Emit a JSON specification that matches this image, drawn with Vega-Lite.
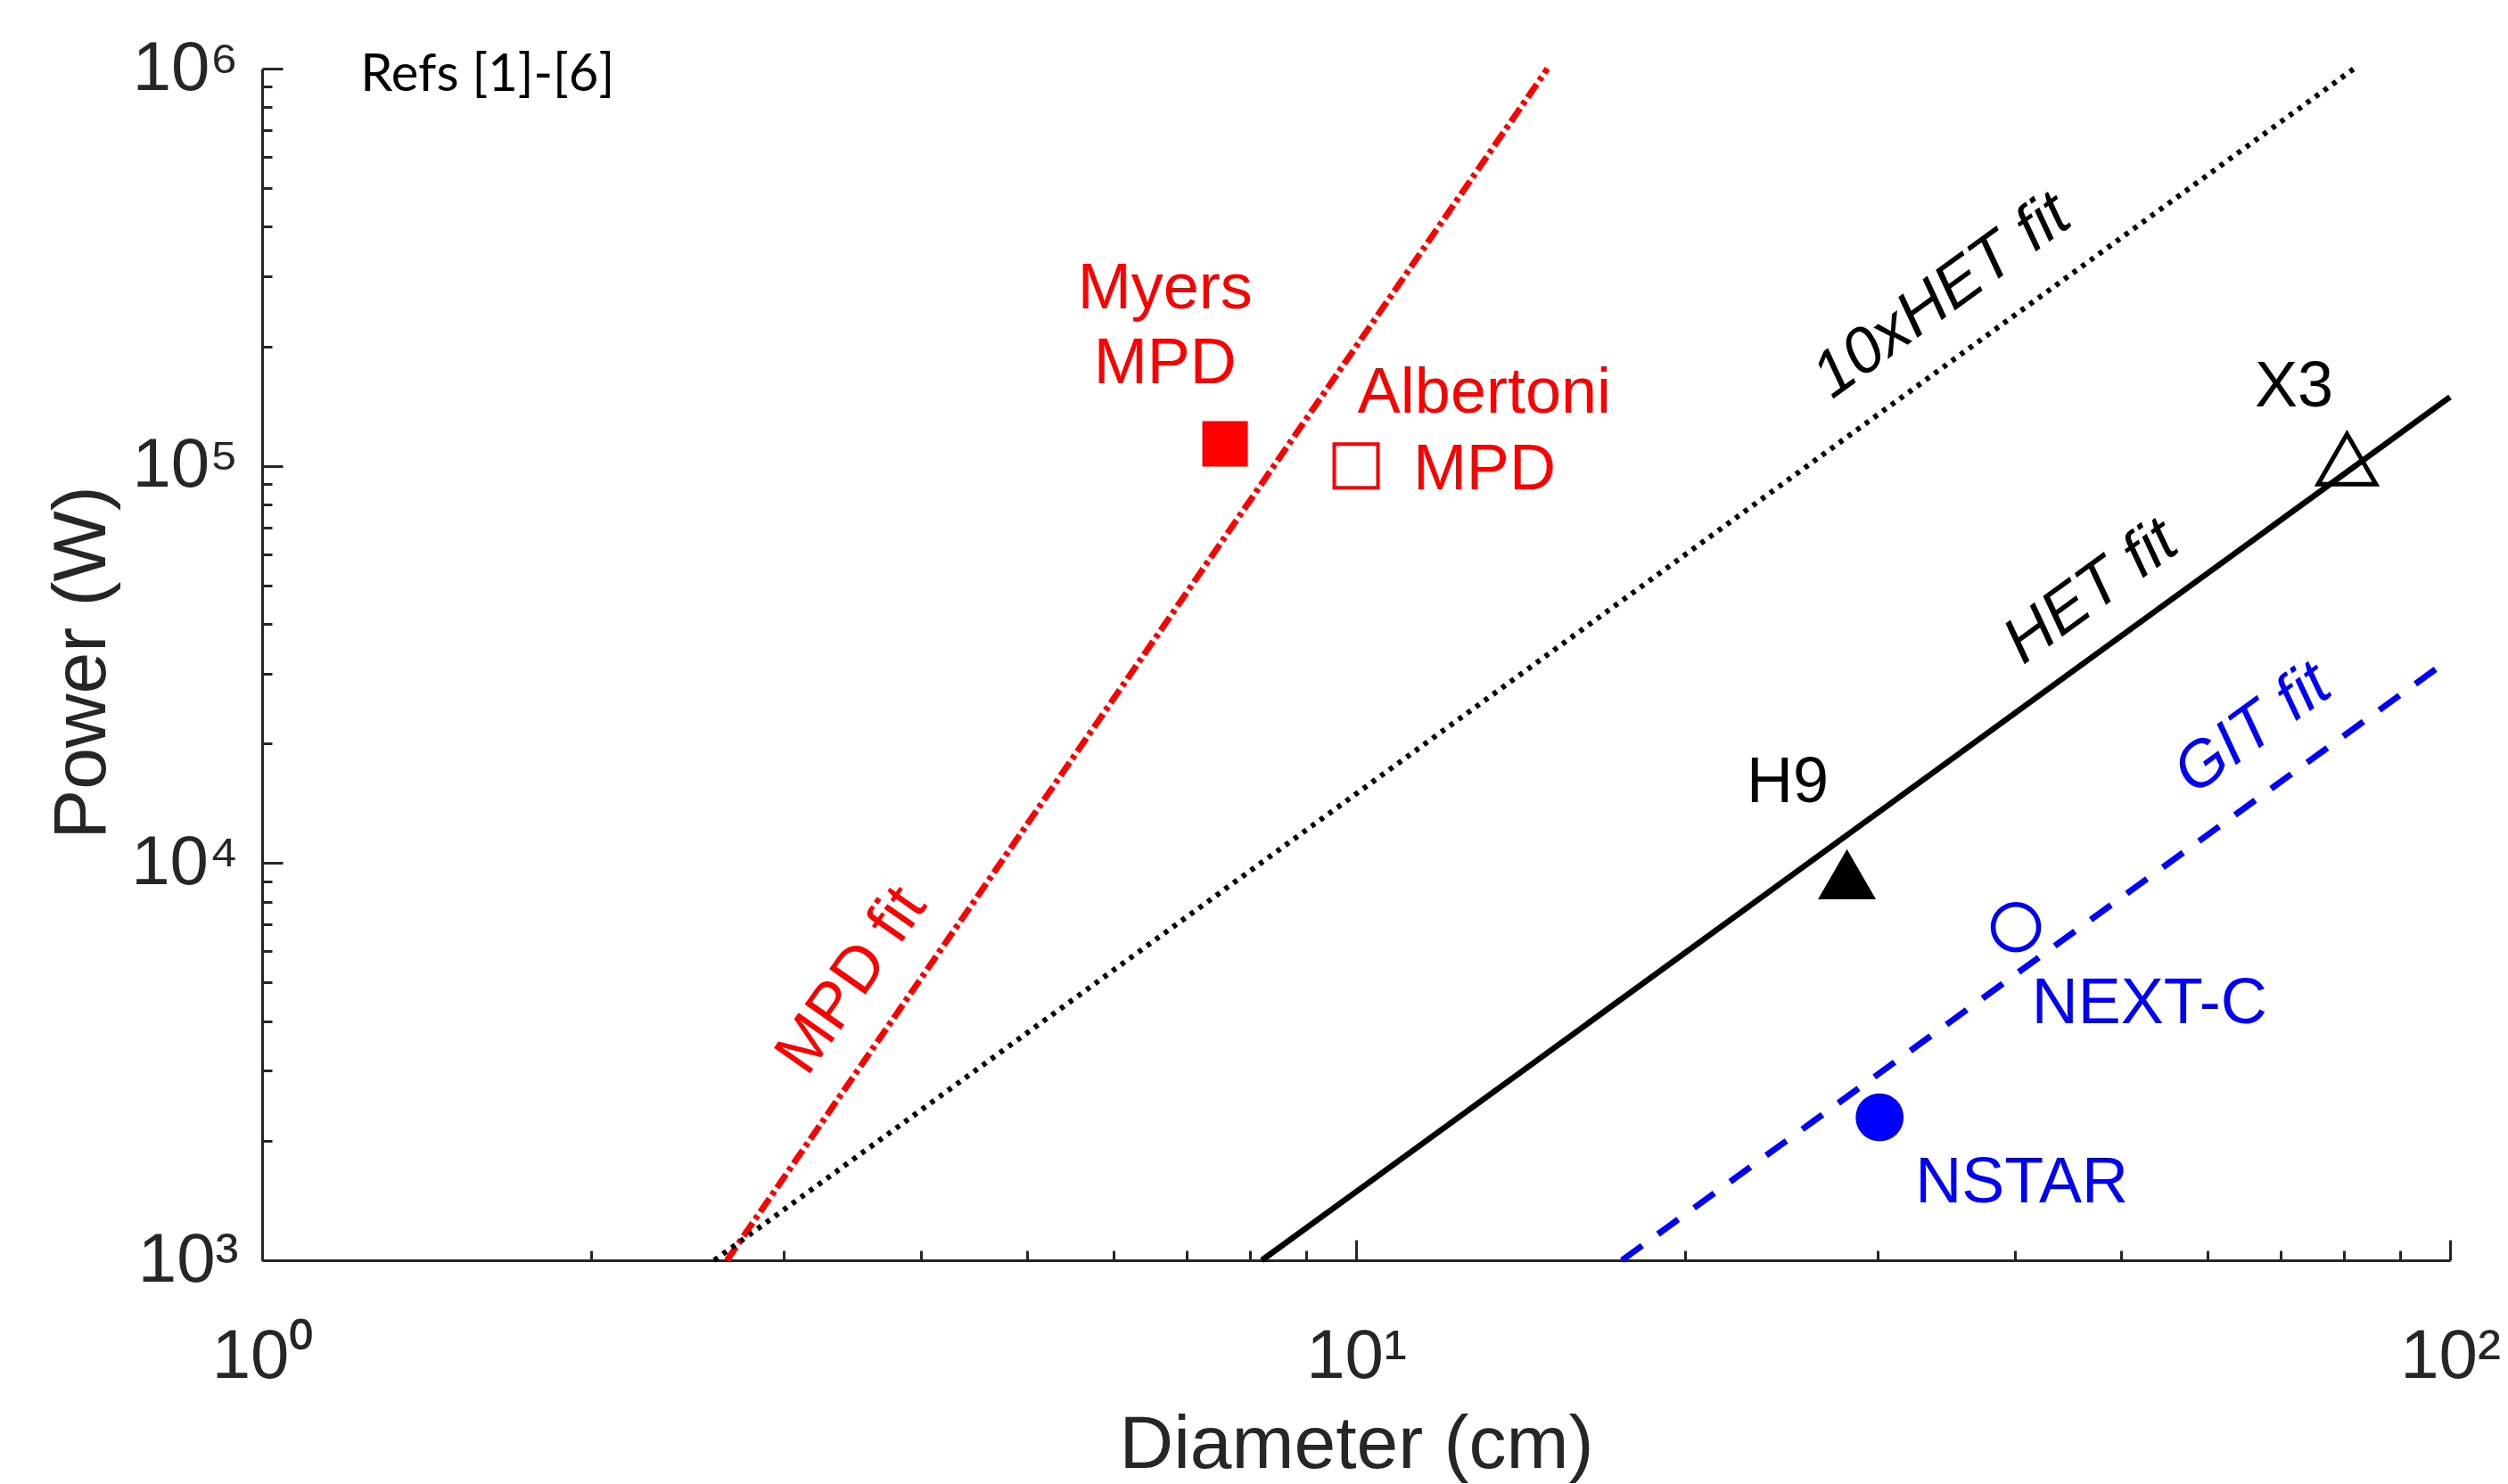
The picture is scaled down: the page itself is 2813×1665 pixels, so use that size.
{
  "$schema": "https://vega.github.io/schema/vega-lite/v6.json",
  "width": 2454,
  "height": 1337,
  "autosize": {"type": "none"},
  "padding": {"left": 294, "top": 77, "right": 65, "bottom": 251},
  "background": "white",
  "config": {"view": {"stroke": null}, "font": "Liberation Sans"},
  "datasets": {
    "lines": [
      {"series": "MPD fit", "d": 2.66, "p": 1000},
      {"series": "MPD fit", "d": 14.96, "p": 1000000},
      {"series": "10xHET fit", "d": 2.59, "p": 1000},
      {"series": "10xHET fit", "d": 81.7, "p": 1000000},
      {"series": "HET fit", "d": 8.2, "p": 1000},
      {"series": "HET fit", "d": 100, "p": 149000},
      {"series": "GIT fit", "d": 17.5, "p": 1000},
      {"series": "GIT fit", "d": 99.4, "p": 32300}
    ],
    "points": [
      {"name": "Myers MPD", "d": 7.59, "p": 113600},
      {"name": "Albertoni MPD", "d": 10.0, "p": 100000},
      {"name": "H9", "d": 28.1, "p": 9370},
      {"name": "X3", "d": 80.5, "p": 104000},
      {"name": "NEXT-C", "d": 40.1, "p": 6900},
      {"name": "NSTAR", "d": 30.1, "p": 2290}
    ],
    "labels": [
      {"text": "Myers", "family": "MPD", "d": 6.69, "p": 249000},
      {"text": "MPD", "family": "MPD", "d": 6.69, "p": 161000},
      {"text": "Albertoni", "family": "MPD", "d": 13.1, "p": 136000},
      {"text": "MPD", "family": "MPD", "d": 13.1, "p": 87300},
      {"text": "X3", "family": "HET", "d": 72.0, "p": 141000},
      {"text": "H9", "family": "HET", "d": 24.8, "p": 14200},
      {"text": "NEXT-C", "family": "GIT", "d": 53.1, "p": 3950},
      {"text": "NSTAR", "family": "GIT", "d": 40.6, "p": 1400}
    ],
    "fitlabels": [
      {"text": "MPD fit", "family": "MPD", "d": 3.457, "p": 5070},
      {"text": "10xHET fit", "family": "HET", "d": 34.3, "p": 268000},
      {"text": "HET fit", "family": "HET", "d": 46.95, "p": 48200},
      {"text": "GIT fit", "family": "GIT", "d": 66.0, "p": 21800}
    ],
    "refs": [{"text": "Refs [1]-[6]", "d": 1.23, "p": 879000}]
  },
  "encoding": {
    "x": {
      "field": "d",
      "type": "quantitative",
      "scale": {"type": "log", "domain": [1, 100], "nice": false},
      "axis": {
        "title": "Diameter (cm)",
        "grid": false,
        "values": [1, 2, 3, 4, 5, 6, 7, 8, 9, 10, 20, 30, 40, 50, 60, 70, 80, 90, 100],
        "labelExpr": "datum.value == 1 ? '10⁰' : datum.value == 10 ? '10¹' : datum.value == 100 ? '10²' : ''",
        "tickSize": {"condition": {"test": "datum.value == 1 || datum.value == 10 || datum.value == 100", "value": -23}, "value": -11},
        "tickWidth": 3,
        "tickColor": "#262626",
        "domainColor": "#262626",
        "domainWidth": 3,
        "labelFont": "Liberation Sans",
        "labelFontSize": 78,
        "labelColor": "#262626",
        "labelPadding": 154,
        "labelBaseline": "alphabetic",
        "labelAlign": "center",
        "labelFlush": false,
        "labelOverlap": false,
        "titleFont": "Liberation Sans",
        "titleFontSize": 84,
        "titleFontWeight": "normal",
        "titleColor": "#262626",
        "titleX": 1227,
        "titleY": 232,
        "titleBaseline": "alphabetic",
        "titleAlign": "center"
      }
    },
    "y": {
      "field": "p",
      "type": "quantitative",
      "scale": {"type": "log", "domain": [1000, 1000000], "nice": false},
      "axis": {
        "title": "Power (W)",
        "grid": false,
        "values": [1000, 2000, 3000, 4000, 5000, 6000, 7000, 8000, 9000, 10000, 20000, 30000, 40000, 50000, 60000, 70000, 80000, 90000, 100000, 200000, 300000, 400000, 500000, 600000, 700000, 800000, 900000, 1000000],
        "labelExpr": "datum.value == 1000 ? '10³' : datum.value == 10000 ? '10⁴' : datum.value == 100000 ? '10⁵' : datum.value == 1000000 ? '10⁶' : ''",
        "tickSize": {"condition": {"test": "datum.value == 1000 || datum.value == 10000 || datum.value == 100000 || datum.value == 1000000", "value": -23}, "value": -11},
        "tickWidth": 3,
        "tickColor": "#262626",
        "domainColor": "#262626",
        "domainWidth": 3,
        "labelFont": "Liberation Sans",
        "labelFontSize": 78,
        "labelColor": "#262626",
        "labelPadding": 50,
        "labelBaseline": "middle",
        "labelAlign": "right",
        "labelFlush": false,
        "labelOverlap": false,
        "titleFont": "Liberation Sans",
        "titleFontSize": 84,
        "titleFontWeight": "normal",
        "titleColor": "#262626",
        "titleX": -177,
        "titleY": 666,
        "titleAngle": -90,
        "titleBaseline": "alphabetic",
        "titleAlign": "center"
      }
    }
  },
  "layer": [
    {
      "data": {"name": "lines"},
      "transform": [{"filter": "datum.series == 'MPD fit'"}],
      "mark": {"type": "line", "color": "#FF0000", "strokeWidth": 7, "strokeDash": [18, 5, 5, 5]}
    },
    {
      "data": {"name": "lines"},
      "transform": [{"filter": "datum.series == '10xHET fit'"}],
      "mark": {"type": "line", "color": "#000000", "strokeWidth": 6, "strokeDash": [5, 7]}
    },
    {
      "data": {"name": "lines"},
      "transform": [{"filter": "datum.series == 'HET fit'"}],
      "mark": {"type": "line", "color": "#000000", "strokeWidth": 6.5}
    },
    {
      "data": {"name": "lines"},
      "transform": [{"filter": "datum.series == 'GIT fit'"}],
      "mark": {"type": "line", "color": "#0000FF", "strokeWidth": 7, "strokeDash": [28, 22]}
    },
    {
      "data": {"name": "points"},
      "transform": [{"filter": "datum.name == 'Myers MPD'"}],
      "mark": {"type": "point", "shape": "square", "filled": true, "color": "#FF0000", "size": 2600, "opacity": 1}
    },
    {
      "data": {"name": "points"},
      "transform": [{"filter": "datum.name == 'Albertoni MPD'"}],
      "mark": {"type": "point", "shape": "square", "filled": false, "color": "#FF0000", "strokeWidth": 4, "size": 2400, "opacity": 1}
    },
    {
      "data": {"name": "points"},
      "transform": [{"filter": "datum.name == 'H9'"}],
      "mark": {"type": "point", "shape": "triangle-up", "filled": true, "color": "#000000", "size": 4225, "opacity": 1}
    },
    {
      "data": {"name": "points"},
      "transform": [{"filter": "datum.name == 'X3'"}],
      "mark": {"type": "point", "shape": "triangle-up", "filled": false, "color": "#000000", "strokeWidth": 5, "size": 4200, "opacity": 1}
    },
    {
      "data": {"name": "points"},
      "transform": [{"filter": "datum.name == 'NEXT-C'"}],
      "mark": {"type": "point", "shape": "circle", "filled": false, "color": "#0000FF", "strokeWidth": 5.5, "size": 2600, "opacity": 1}
    },
    {
      "data": {"name": "points"},
      "transform": [{"filter": "datum.name == 'NSTAR'"}],
      "mark": {"type": "point", "shape": "circle", "filled": true, "color": "#0000FF", "size": 2900, "opacity": 1}
    },
    {
      "data": {"name": "labels"},
      "mark": {"type": "text", "font": "Liberation Sans", "fontSize": 72, "align": "center", "baseline": "alphabetic"},
      "encoding": {
        "text": {"field": "text"},
        "color": {"field": "family", "type": "nominal", "scale": {"domain": ["MPD", "HET", "GIT"], "range": ["#FF0000", "#000000", "#0000FF"]}, "legend": null}
      }
    },
    {
      "data": {"name": "fitlabels"},
      "transform": [{"filter": "datum.family == 'MPD'"}],
      "mark": {"type": "text", "font": "Liberation Sans", "fontSize": 72, "align": "center", "baseline": "middle", "angle": -55},
      "encoding": {
        "text": {"field": "text"},
        "color": {"field": "family", "type": "nominal", "legend": null}
      }
    },
    {
      "data": {"name": "fitlabels"},
      "transform": [{"filter": "datum.family != 'MPD'"}],
      "mark": {"type": "text", "font": "Liberation Sans", "fontSize": 72, "fontStyle": "italic", "align": "center", "baseline": "middle", "angle": -36},
      "encoding": {
        "text": {"field": "text"},
        "color": {"field": "family", "type": "nominal", "legend": null}
      }
    },
    {
      "data": {"name": "refs"},
      "mark": {"type": "text", "font": "Lato", "fontSize": 58, "align": "left", "baseline": "alphabetic", "color": "#000000"},
      "encoding": {"text": {"field": "text"}}
    }
  ]
}
